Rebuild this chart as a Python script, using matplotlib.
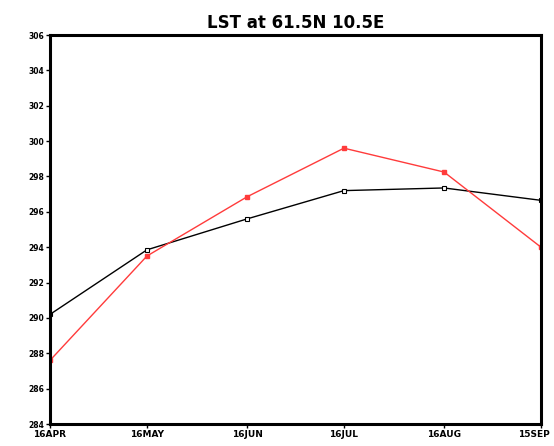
import datetime as dt
import matplotlib
matplotlib.use("Agg")
import matplotlib.pyplot as plt
import matplotlib.transforms as mtransforms

dates = [dt.date(2000, 4, 16), dt.date(2000, 5, 16), dt.date(2000, 6, 16),
         dt.date(2000, 7, 16), dt.date(2000, 8, 16), dt.date(2000, 9, 15)]
tick_labels = ["16APR", "16MAY", "16JUN", "16JUL", "16AUG", "15SEP"]
lst_black = [290.2, 293.85, 295.6, 297.2, 297.35, 296.65]
lst_red = [287.6, 293.5, 296.85, 299.6, 298.25, 294.0]
y_ticks = list(range(284, 307, 2))

fig = plt.figure(figsize=(5.54, 4.46), dpi=100)
ax = fig.add_axes([0.0903, 0.0493, 0.8862, 0.8722])

ax.plot(dates, lst_black, color="black", lw=1.0, marker="s", ms=3.5,
        mfc="white", mec="black", mew=0.8)
ax.plot(dates, lst_red, color="#ff3b3b", lw=1.0, marker="s", ms=3.5,
        mfc="#ff3b3b", mec="#ff3b3b")

ax.set_xlim(dates[0], dates[-1])
ax.set_ylim(284, 306)
ax.set_xticks(dates)
ax.set_xticklabels(tick_labels, fontsize=6.5, fontweight="bold")
ax.set_yticks(y_ticks)
ax.set_yticklabels([str(v) for v in y_ticks], fontsize=5.5, fontweight="bold")
ax.tick_params(direction="out", length=3, width=1, pad=1)

# keep the last date label inside the figure
last = ax.get_xticklabels()[-1]
last.set_transform(last.get_transform() +
                   mtransforms.ScaledTranslation(-5 / 72, 0, fig.dpi_scale_trans))

for side in ["left", "right", "top", "bottom"]:
    ax.spines[side].set_linewidth(2.2)

ax.set_title("LST at 61.5N 10.5E", fontsize=12, fontweight="bold", pad=5)

fig.savefig("out.png", dpi=100)
